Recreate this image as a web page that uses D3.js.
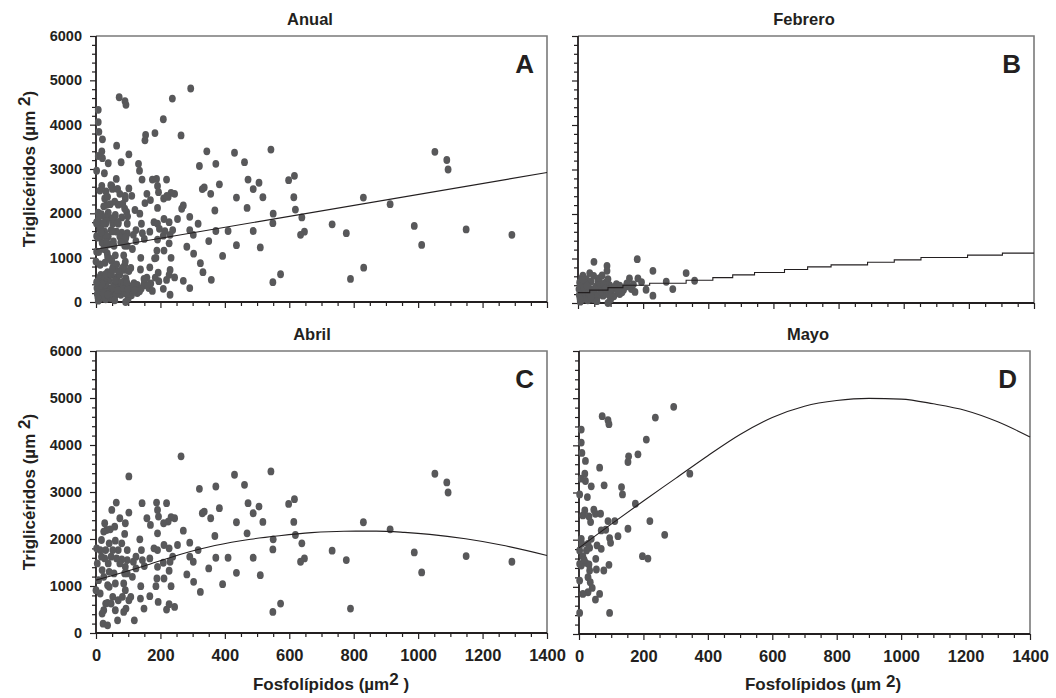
<!DOCTYPE html>
<html>
<head>
<meta charset="utf-8">
<script src="https://cdn.jsdelivr.net/npm/d3@7"></script>
<style>
  body { margin: 0; background: #fff; }
  text { font-family: "Liberation Sans", Arial, sans-serif; font-weight: bold; fill: #231f20; }
</style>
</head>
<body>
<svg id="chart" width="1056" height="698"></svg>
<script>
// Fosfolípidos (x) vs Triglicéridos (y), µm², per sampling month.
const febrero = [
  [49,925],[182,985],[89,836],[89,724],[230,724],[332,672],[36,672],[15,612],[26,537],[158,552],
  [184,552],[271,478],[358,500],[61,500],[92,537],[5,463],[118,425],[148,373],[164,313],[209,298],
  [291,313],[72,351],[36,313],[10,239],[51,239],[102,239],[128,201],[230,164],[77,164],[20,127],
  [46,90],[7,30],[92,0],[31,403],[56,373],[82,254],[118,313],[97,403],[128,388],[3,313],
  [12,560],[22,450],[40,480],[65,420],[85,460],[105,330],[140,300],[24,200],[60,150],[15,90],
  [110,150],[150,440],[170,420],[195,470],[8,380],[45,280],[70,260],[30,60],[100,80],[135,240],
  [4,180],[18,330],[33,230],[52,330],[66,560],[78,430],[95,180],[112,360],[122,270],[58,40],
  [40,140],[84,320],[14,520],[28,390],[6,100],[74,620],[48,610],[98,300],[160,380],[175,250]
];

const abril = [
  [1052,3388],[1089,3203],[1093,2989],[1149,1637],[1291,1516],[988,1715],[1011,1288],[913,2206],
  [830,2356],[777,1552],[733,1751],[790,520],[647,1587],[635,1516],[639,1907],[619,2085],[614,2363],
  [616,2847],[598,2747],[573,626],[549,448],[549,1779],[550,1993],[543,3438],[518,2363],[510,1231],
  [506,2690],[488,2548],[488,1601],[472,2762],[469,2121],[461,3153],[436,2356],[436,1281],[430,3367],
  [410,1601],[393,1039],[383,2655],[372,3117],[369,2064],[372,1601],[356,2441],[350,1374],[336,2584],
  [330,2548],[321,3068],[324,875],[317,1765],[303,1089],[302,1516],[291,1623],[291,1922],[282,1246],
  [271,2178],[264,3758],[253,1872],[244,555],[244,2441],[233,2463],[219,2762],[219,498],[227,612],
  [233,996],[227,1324],[230,1516],[238,1623],[227,1801],[224,2370],[211,1872],[209,1495],[211,1160],
  [210,2335],[194,2477],[191,2619],[188,2776],[191,2121],[191,1765],[191,1409],[189,1160],[193,662],
  [186,996],[180,1801],[169,2299],[167,783],[167,1587],[158,2441],[150,1423],[149,520],[144,1552],
  [143,2762],[141,1765],[139,996],[138,733],[136,1993],[124,1623],[124,1374],[116,1516],[119,270],
  [113,1196],[102,3331],[102,2562],[97,1765],[97,1552],[97,1267],[93,520],[91,2335],[89,2107],
  [86,1053],[80,1566],[82,769],[80,1907],[74,2441],[74,1480],[69,1765],[63,2776],[60,1964],[58,2263],
  [56,1267],[52,769],[49,2619],[47,1623],[44,2206],[41,1302],[41,1907],[38,1480],[36,1018],[36,641],
  [33,2192],[30,1765],[27,2335],[27,1587],[24,1196],[24,484],[22,199],[19,1338],[17,1623],[13,840],
  [13,1765],[8,1125],[4,1480],[2,1801],[0,911],[36,164],[19,413],[30,626],[41,982],[47,626],
  [60,484],[67,270],[69,697],[60,1053],[64,1587],[86,448],[91,911],[91,1409],[108,769],[102,697],
  [89,1267],[52,1765],[17,1979],[24,2157]
];

const mayo = [
  [294,4816],[237,4589],[72,4618],[90,4533],[93,4448],[7,4334],[7,4058],[9,3839],[20,3669],[18,3399],
  [20,3244],[7,3293],[209,4122],[183,3810],[154,3768],[152,3647],[64,3527],[344,3399],[38,3130],[78,3152],
  [132,3116],[135,2960],[2,2960],[26,2904],[175,2762],[18,2620],[46,2635],[51,2550],[67,2550],[12,2514],
  [31,2493],[36,2373],[90,2394],[111,2394],[220,2394],[69,2196],[83,2210],[152,2231],[121,2075],[266,2103],
  [7,2018],[38,2018],[28,1912],[95,2033],[98,1933],[56,1877],[69,1806],[33,1827],[23,1771],[2,1771],
  [12,1643],[52,1593],[2,1487],[21,1508],[31,1473],[7,1452],[197,1650],[214,1600],[93,1466],[54,1367],
  [33,1346],[77,1346],[28,1204],[2,1133],[35,1098],[41,977],[28,885],[12,850],[64,850],[51,729],
  [2,446],[95,446],[9,1912],[16,1572]
];

// Annual pool: all months together, plus records outside the three months shown.
const otros = [[831,774]];
const anual = [...febrero, ...abril, ...mayo, ...otros];

// Fitted curves, read as [x, y] knots.
const ajusteAnual = [[0,1190],[1400,2920]];
const ajusteFebrero = [[0,233],[36,290],[92,345],[138,400],[220,444],[332,511],[414,571],[475,632],
  [542,684],[634,752],[705,812],[777,857],[889,917],[971,970],[1053,1023],[1196,1075],[1303,1120],[1400,1120]];
const ajusteAbril = [[0,1125],[147,1420],[258,1665],[369,1860],[480,1995],[569,2070],[669,2135],
  [769,2165],[870,2168],[958,2140],[1036,2098],[1147,2004],[1258,1872],[1400,1650]];
const ajusteMayo = [[0,1827],[100,2330],[200,2820],[300,3300],[400,3780],[500,4230],[600,4590],
  [700,4830],[800,4950],[900,4995],[1000,4980],[1100,4880],[1200,4740],[1300,4500],[1400,4178]];

const xMajor = [0,200,400,600,800,1000,1200,1400];
const xTickLabels = ["0","200","400","600","800","1000","1200","1400"];
const yMajor = [0,1000,2000,3000,4000,5000,6000];
const yTickLabels = ["0","1000","2000","3000","4000","5000","6000"];
const xMinor = d3.range(0, 1401, 50).filter(v => v % 200 !== 0);
const yMinor = d3.range(0, 6001, 200).filter(v => v % 1000 !== 0);

const panels = [
  { letter: "A", title: "Anual",   data: anual,   fit: ajusteAnual,   curve: d3.curveLinear,
    x0: 96,  x1: 547,  y0: 36,  y1: 302, titleX: 310, xLabels: false, yLabels: true },
  { letter: "B", title: "Febrero", data: febrero, fit: ajusteFebrero, curve: d3.curveStepAfter,
    x0: 578, x1: 1034, y0: 36,  y1: 303, titleX: 804, xLabels: false, yLabels: false },
  { letter: "C", title: "Abril",   data: abril,   fit: ajusteAbril,   curve: d3.curveMonotoneX,
    x0: 96,  x1: 547,  y0: 351, y1: 633, titleX: 312, xLabels: true,  yLabels: true },
  { letter: "D", title: "Mayo",    data: mayo,    fit: ajusteMayo,    curve: d3.curveMonotoneX,
    x0: 579, x1: 1030, y0: 351, y1: 634, titleX: 808, xLabels: true,  yLabels: false }
];

const svg = d3.select("#chart");

function styleAxis(g, fontSize) {
  g.attr("font-family", null).attr("font-size", fontSize);
  g.select(".domain").remove();
  g.selectAll(".tick line").attr("stroke", "#231f20").attr("stroke-width", 1.2);
  g.selectAll(".tick text").attr("fill", "#231f20");
}

panels.forEach(p => {
  const x = d3.scaleLinear().domain([0, 1400]).range([p.x0, p.x1]);
  const y = d3.scaleLinear().domain([0, 6000]).range([p.y1, p.y0]);
  const g = svg.append("g");

  // grey top/right frame
  g.append("path")
    .attr("d", `M${p.x0},${p.y0}H${p.x1}V${p.y1}`)
    .attr("fill", "none").attr("stroke", "#7a7a7a").attr("stroke-width", 1.6);

  // x axis ticks
  g.append("g").attr("transform", `translate(0,${p.y1})`)
    .call(d3.axisBottom(x).tickValues(xMinor).tickSize(4).tickFormat(""))
    .call(a => styleAxis(a, 16));
  g.append("g").attr("transform", `translate(0,${p.y1})`)
    .call(d3.axisBottom(x).tickValues(xMajor).tickSize(6).tickPadding(10)
      .tickFormat((d, i) => p.xLabels ? xTickLabels[i] : ""))
    .call(a => styleAxis(a, 16.5));

  // y axis ticks
  g.append("g").attr("transform", `translate(${p.x0},0)`)
    .call(d3.axisLeft(y).tickValues(yMinor).tickSize(4).tickFormat(""))
    .call(a => styleAxis(a, 14));
  g.append("g").attr("transform", `translate(${p.x0},0)`)
    .call(d3.axisLeft(y).tickValues(yMajor).tickSize(6).tickPadding(8)
      .tickFormat((d, i) => p.yLabels ? yTickLabels[i] : ""))
    .call(a => styleAxis(a, 14.5));

  // black axis lines
  g.append("path")
    .attr("d", `M${p.x0},${p.y0}V${p.y1}H${p.x1}`)
    .attr("fill", "none").attr("stroke", "#231f20").attr("stroke-width", 1.8);

  // points
  g.append("g").selectAll("ellipse").data(p.data).join("ellipse")
    .attr("cx", d => x(d[0])).attr("cy", d => y(d[1]))
    .attr("rx", 3.4).attr("ry", 3.9).attr("fill", "#58585a");

  // fitted curve
  g.append("path").datum(p.fit)
    .attr("d", d3.line().x(d => x(d[0])).y(d => y(d[1])).curve(p.curve))
    .attr("fill", "none").attr("stroke", "#231f20").attr("stroke-width", 1.1);

  // panel title and letter
  g.append("text").attr("x", p.titleX).attr("y", p.y0 - 11)
    .attr("text-anchor", "middle").attr("font-size", 16.5).text(p.title);
  g.append("text").attr("x", p.x1 - 13).attr("y", p.y0 + 37)
    .attr("text-anchor", "end").attr("font-size", 26).text(p.letter);

  // y axis title
  if (p.yLabels) {
    const cy = (p.y0 + p.y1) / 2;
    const t = g.append("text")
      .attr("transform", `translate(35,${cy}) rotate(-90)`)
      .attr("text-anchor", "middle").attr("font-size", 17);
    t.append("tspan").text("Triglicéridos (µm ");
    t.append("tspan").attr("dy", -5).text("2");
    t.append("tspan").attr("dy", 5).text(")");
  }
});

// x axis titles
const tC = svg.append("text").attr("x", 331).attr("y", 690)
  .attr("text-anchor", "middle").attr("font-size", 17);
tC.append("tspan").text("Fosfolípidos (µm");
tC.append("tspan").attr("dy", -5).text("2");
tC.append("tspan").attr("dy", 5).text(" )");

const tD = svg.append("text").attr("x", 823).attr("y", 690)
  .attr("text-anchor", "middle").attr("font-size", 17);
tD.append("tspan").text("Fosfolípidos (µm ");
tD.append("tspan").attr("dy", -3).text("2");
tD.append("tspan").attr("dy", 3).text(")");
</script>
</body>
</html>
